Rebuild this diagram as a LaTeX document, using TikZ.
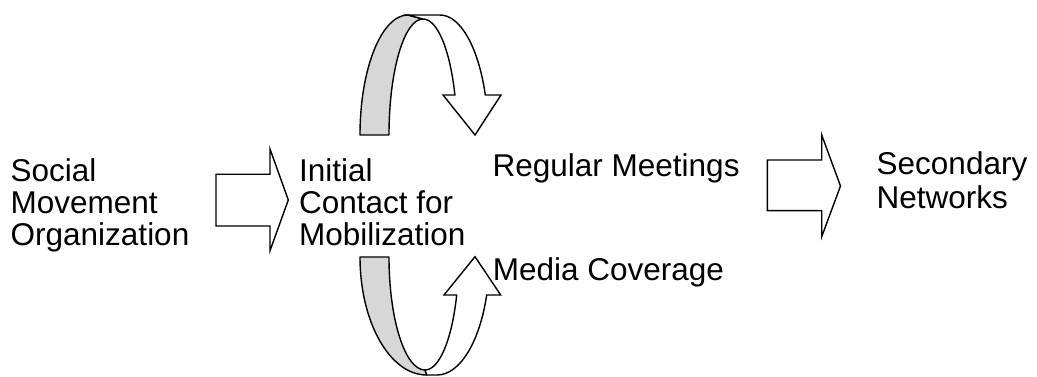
\documentclass[tikz,border=0pt]{standalone}
\usepackage{fontspec}
\setmainfont{Liberation Sans}
\definecolor{bandgray}{RGB}{215,215,215}
\begin{document}
\begin{tikzpicture}[x=1pt,y=-1pt,
  lbl/.style={anchor=base west,inner sep=0pt,align=left,font=\fontsize{31.5}{32}\selectfont},
  blk/.style={draw=black,line width=1.4pt,fill=white,line join=miter},
  band/.style={draw=black,line width=1.4pt,fill=bandgray,line join=round}]
\useasboundingbox (0,0) rectangle (1037,377);
% texts (base anchor = baseline of the last line)
\node[lbl] (smo) at (10.5,245) {Social\\Movement\\Organization};
\node[lbl] (icm) at (299,245) {Initial\\Contact for\\Mobilization};
\node[lbl] (rm)  at (492.5,177) {Regular Meetings};
\node[lbl,font=\fontsize{31.5}{34}\selectfont] (sn) at (876.5,208) {Secondary\\Networks};
\node[lbl] (mc)  at (492.7,280) {Media Coverage};
% straight block arrows
\draw[blk] (216,174.3) -- (270,174.3) -- (270,149) -- (288.3,200) -- (270,250.7) -- (270,226) -- (216,226) -- cycle;
\draw[blk] (767.3,160) -- (821.7,160) -- (821.7,135) -- (840.5,186) -- (821.7,236.7) -- (821.7,210.7) -- (767.3,210.7) -- cycle;
% top curved arrow
\draw[band] (360,135) .. controls (360,68.7) and (381.5,15) .. (408,15) -- (423,19)
  .. controls (404.2,19) and (389,70.9) .. (389,135) -- cycle;
\draw[blk] (408,15) -- (440,15) .. controls (460.3,15) and (478.5,47.2) .. (485.3,95)
  -- (501,95) -- (475,135) -- (443,95) -- (454.9,95)
  .. controls (450,49.4) and (437.3,19) .. (423,19) -- cycle;
% bottom curved arrow
\draw[band] (360,257) .. controls (360,322.2) and (389.9,375) .. (426.7,375) -- (425,370)
  .. controls (405.1,370) and (389,319.4) .. (389,257) -- cycle;
\draw[blk] (426.7,375) -- (437,375) .. controls (459.5,375) and (479.5,342.8) .. (486.7,295)
  -- (500.7,295) -- (475,256.7) -- (444,295) -- (456.7,295)
  .. controls (451.9,340) and (439.2,370) .. (425,370) -- cycle;
\end{tikzpicture}
\end{document}
